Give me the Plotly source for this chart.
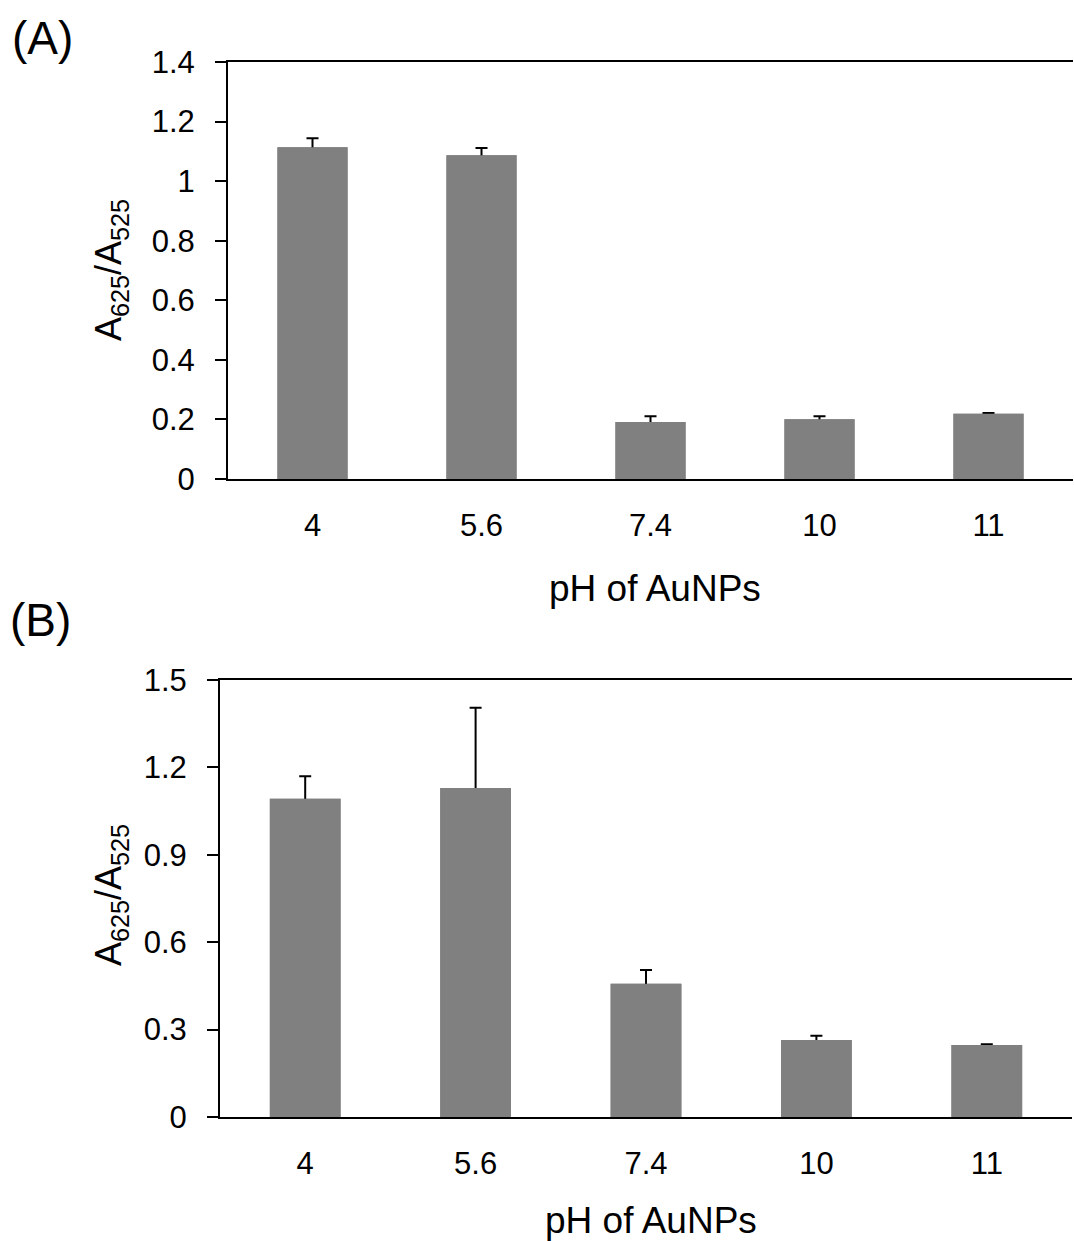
import plotly.graph_objects as go

# ---- data ----
ph_labels = ["4", "5.6", "7.4", "10", "11"]

ratio_a = [1.114, 1.087, 0.191, 0.201, 0.219]
err_a = [0.030, 0.024, 0.020, 0.010, 0.003]

ratio_b = [1.092, 1.129, 0.457, 0.264, 0.247]
err_b = [0.078, 0.276, 0.048, 0.015, 0.003]

y_ticks_a = [0, 0.2, 0.4, 0.6, 0.8, 1.0, 1.2, 1.4]
y_ticktext_a = ["0", "0.2", "0.4", "0.6", "0.8", "1", "1.2", "1.4"]
y_ticks_b = [0, 0.3, 0.6, 0.9, 1.2, 1.5]
y_ticktext_b = ["0", "0.3", "0.6", "0.9", "1.2", "1.5"]

W, H = 1074, 1241
FONT = "Liberation Sans, Arial, sans-serif"
BAR = "#808080"

fig = go.Figure()

# bars with (symmetric) error bars; the lower half is hidden by an
# identical bar drawn on top, so only the upper whisker stays visible
for vals, errs, xa, ya in [(ratio_a, err_a, "x", "y"), (ratio_b, err_b, "x2", "y2")]:
    fig.add_trace(go.Bar(
        x=ph_labels, y=vals, xaxis=xa, yaxis=ya,
        marker=dict(color=BAR, line=dict(width=0)),
        error_y=dict(type="data", array=errs, symmetric=True,
                     color="black", thickness=2, width=6),
        showlegend=False, hoverinfo="skip",
    ))
    fig.add_trace(go.Bar(
        x=ph_labels, y=vals, xaxis=xa, yaxis=ya,
        marker=dict(color=BAR, line=dict(width=0)),
        showlegend=False,
    ))

def px_x(p):
    return p / W

def px_y(p):
    return 1 - p / H

tick_font = dict(family=FONT, size=31, color="black")

xcommon = dict(
    type="category", showline=True, linecolor="black", linewidth=2,
    mirror=True, ticks="", showgrid=False, zeroline=False,
    tickfont=tick_font, ticklabelstandoff=18, automargin=False,
)
ycommon = dict(
    showline=True, linecolor="black", linewidth=2, ticks="outside",
    ticklen=11, tickwidth=2, tickcolor="black", showgrid=False,
    zeroline=False, tickfont=tick_font, ticklabelstandoff=14,
    automargin=False,
)

fig.update_layout(
    width=W, height=H,
    margin=dict(l=0, r=0, t=0, b=0, pad=0, autoexpand=False),
    paper_bgcolor="white", plot_bgcolor="white",
    barmode="overlay",
    bargap=0.585,
    xaxis=dict(domain=[px_x(228), px_x(1073)], anchor="y", **xcommon),
    yaxis=dict(domain=[px_y(479), px_y(62)], anchor="x", range=[0, 1.4],
               tickvals=y_ticks_a, ticktext=y_ticktext_a, **ycommon),
    xaxis2=dict(domain=[px_x(220), px_x(1072)], anchor="y2", **xcommon),
    yaxis2=dict(domain=[px_y(1117), px_y(680)], anchor="x2", range=[0, 1.5],
                tickvals=y_ticks_b, ticktext=y_ticktext_b, **ycommon),
    font=dict(family=FONT, color="black"),
)

title_font = dict(family=FONT, size=37, color="black")
ytitle = "A<sub>625</sub>/A<sub>525</sub>"

annotations = [
    dict(text="(A)", x=px_x(10), y=px_y(38), xanchor="left", yanchor="middle",
         font=dict(family=FONT, size=46, color="black"), showarrow=False,
         xref="paper", yref="paper"),
    dict(text="(B)", x=px_x(8), y=px_y(620), xanchor="left", yanchor="middle",
         font=dict(family=FONT, size=46, color="black"), showarrow=False,
         xref="paper", yref="paper"),
    dict(text="pH of AuNPs", x=px_x(655), y=px_y(588), xanchor="center",
         yanchor="middle", font=title_font, showarrow=False,
         xref="paper", yref="paper"),
    dict(text="pH of AuNPs", x=px_x(651), y=px_y(1220), xanchor="center",
         yanchor="middle", font=title_font, showarrow=False,
         xref="paper", yref="paper"),
    dict(text=ytitle, x=px_x(111), y=px_y(270), xanchor="center",
         yanchor="middle", textangle=-90, font=dict(family=FONT, size=36, color="black"),
         showarrow=False, xref="paper", yref="paper"),
    dict(text=ytitle, x=px_x(111), y=px_y(895), xanchor="center",
         yanchor="middle", textangle=-90, font=dict(family=FONT, size=36, color="black"),
         showarrow=False, xref="paper", yref="paper"),
]
fig.update_layout(annotations=annotations)

fig.write_html("out.html")
